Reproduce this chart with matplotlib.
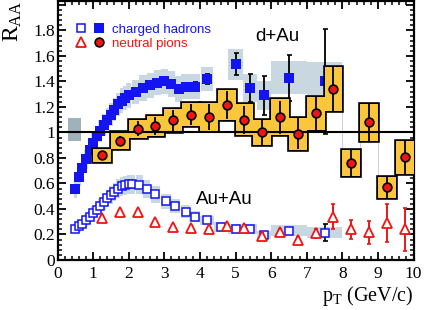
import numpy as np
import matplotlib
matplotlib.use('Agg')
import matplotlib.pyplot as plt
from matplotlib.legend_handler import HandlerTuple
from matplotlib.ticker import MultipleLocator, FuncFormatter
from matplotlib.patches import Rectangle

plt.rcParams['mathtext.fontset'] = 'custom'
plt.rcParams['mathtext.rm'] = 'Liberation Serif'
plt.rcParams['mathtext.it'] = 'Liberation Serif:italic'

# ---------------- data ----------------
# charged hadrons, d+Au (filled squares)
pt_h_dau = [0.5, 0.6, 0.7, 0.8, 0.9, 1.0, 1.1, 1.2, 1.3, 1.4, 1.5, 1.6, 1.7, 1.8, 1.9,
            2.0, 2.2, 2.4, 2.6, 2.8, 3.0, 3.2, 3.4, 3.6, 3.85, 4.2, 5.0, 5.4, 5.8, 6.5, 7.5]
raa_h_dau = [0.555, 0.65, 0.72, 0.79, 0.86, 0.92, 0.97, 1.01, 1.06, 1.10, 1.14, 1.18, 1.22, 1.25, 1.27,
             1.29, 1.32, 1.35, 1.37, 1.39, 1.40, 1.38, 1.34, 1.36, 1.36, 1.42, 1.535, 1.35, 1.29, 1.43, 1.40]
stat_h_dau = [0, 0, 0, 0, 0, 0, 0, 0, 0, 0, 0, 0, 0, 0, 0,
              0, 0, 0, 0, 0, 0, 0, 0, 0, 0.035, 0.04, 0.085, 0.11, 0.15, 0.18, 0.41]
sys_h_dau = [0.07, 0.07, 0.075, 0.075, 0.08, 0.08, 0.08, 0.085, 0.085, 0.09, 0.09, 0.09, 0.09, 0.095, 0.095,
             0.095, 0.095, 0.1, 0.1, 0.1, 0.1, 0.1, 0.1, 0.1, 0.1, 0.095, 0.12, 0.11, 0.115, 0.13, 0.15]
binw_h_dau = [0.1, 0.1, 0.1, 0.1, 0.1, 0.1, 0.1, 0.1, 0.1, 0.1, 0.1, 0.1, 0.1, 0.1, 0.1,
              0.15, 0.2, 0.2, 0.2, 0.2, 0.2, 0.2, 0.2, 0.25, 0.3, 0.35, 0.4, 0.4, 0.4, 1.0, 1.0]

# charged hadrons, Au+Au (open squares)
pt_h_auau = [0.5, 0.6, 0.7, 0.8, 0.9, 1.0, 1.1, 1.2, 1.3, 1.4, 1.5, 1.6, 1.7, 1.8, 1.9, 2.0, 2.1,
             2.3, 2.5, 2.75, 3.05, 3.3, 3.6, 3.85, 4.2, 4.6, 5.0, 5.4, 5.8, 6.5, 7.5]
raa_h_auau = [0.245, 0.265, 0.285, 0.31, 0.335, 0.365, 0.395, 0.425, 0.455, 0.485, 0.51, 0.535, 0.56, 0.578,
              0.587, 0.592, 0.592, 0.59, 0.555, 0.515, 0.46, 0.42, 0.38, 0.34, 0.31, 0.26, 0.24, 0.243,
              0.196, 0.23, 0.215]
stat_h_auau = [0, 0, 0, 0, 0, 0, 0, 0, 0, 0, 0, 0, 0, 0, 0, 0, 0,
               0, 0, 0, 0, 0, 0, 0, 0, 0, 0, 0, 0, 0.02, 0.065]
sys_h_auau = [0.045, 0.045, 0.045, 0.05, 0.05, 0.055, 0.055, 0.06, 0.065, 0.065, 0.07, 0.07, 0.075, 0.075,
              0.075, 0.075, 0.075, 0.075, 0.07, 0.065, 0.06, 0.055, 0.05, 0.045, 0.035, 0.04, 0.04, 0.04,
              0.03, 0.045, 0.045]
binw_h_auau = [0.1, 0.1, 0.1, 0.1, 0.1, 0.1, 0.1, 0.1, 0.1, 0.1, 0.1, 0.1, 0.1, 0.1, 0.1, 0.1, 0.15,
               0.2, 0.22, 0.27, 0.28, 0.28, 0.27, 0.3, 0.4, 0.4, 0.4, 0.4, 0.4, 1.0, 1.0]

# neutral pions, d+Au (filled circles)
pt_pi_dau = [1.25, 1.75, 2.25, 2.75, 3.25, 3.75, 4.25, 4.75, 5.25, 5.75, 6.25, 6.75, 7.25, 7.75,
             8.25, 8.75, 9.25, 9.75]
raa_pi_dau = [0.82, 0.935, 1.03, 1.05, 1.095, 1.14, 1.12, 1.215, 1.10, 1.0, 1.12, 0.99, 1.15, 1.34,
              0.76, 1.08, 0.57, 0.805]
stat_pi_dau = [0.02, 0.04, 0.06, 0.07, 0.08, 0.08, 0.10, 0.11, 0.11, 0.10, 0.13, 0.12, 0.13, 0.17,
               0.10, 0.145, 0.08, 0.13]
sys_pi_dau = [0.05, 0.065, 0.07, 0.08, 0.09, 0.09, 0.11, 0.115, 0.12, 0.10, 0.14, 0.125, 0.13, 0.17,
              0.10, 0.145, 0.08, 0.13]

# neutral pions, Au+Au (open triangles)
pt_pi_auau = [1.25, 1.75, 2.25, 2.75, 3.25, 3.75, 4.25, 4.75, 5.25, 5.75, 6.25, 6.75, 7.25, 7.75,
              8.25, 8.75, 9.25, 9.75]
raa_pi_auau = [0.327, 0.374, 0.374, 0.30, 0.26, 0.25, 0.24, 0.267, 0.248, 0.188, 0.222, 0.157, 0.21,
               0.34, 0.24, 0.218, 0.29, 0.24]
stat_pi_auau = [0.01, 0.01, 0.01, 0.01, 0.01, 0.01, 0.01, 0.015, 0.015, 0.02, 0.02, 0.02, 0.035, 0.1,
                0.075, 0.09, 0.15, 0.17]

# normalisation uncertainty (d+Au)
norm_lo, norm_hi = 0.93, 1.11

legend_labels = ['charged hadrons', 'neutral pions']
legend_colors = ['#1414f0', '#f01414']

# ---------------- styles ----------------
BLUE = '#1414f0'
RED = '#f01414'
BAND = '#c9d7e0'
NORM = '#9fb1bb'
GOLD = '#f9c63c'

fig = plt.figure(figsize=(4.36, 3.10), dpi=100)
ax = fig.add_axes([0.1319, 0.1613, 0.8165, 0.8339])
ax.set_xlim(0, 10)
ax.set_ylim(0, 2.027)

# grey systematic bands for charged hadrons
for x, y, s, w in zip(pt_h_dau, raa_h_dau, sys_h_dau, binw_h_dau):
    ax.add_patch(Rectangle((x - w / 2, y - s), w, 2 * s, facecolor=BAND, edgecolor='none', zorder=1))
for x, y, s, w in zip(pt_h_auau, raa_h_auau, sys_h_auau, binw_h_auau):
    ax.add_patch(Rectangle((x - w / 2, y - s), w, 2 * s, facecolor=BAND, edgecolor='none', zorder=1))

# normalisation box
ax.add_patch(Rectangle((0.30, norm_lo), 0.36, norm_hi - norm_lo, facecolor=NORM, edgecolor='none', zorder=1))

# charged hadrons Au+Au (open squares)
h_open, = ax.plot(pt_h_auau, raa_h_auau, ls='none', marker='s', ms=5.9, mfc='white', mec=BLUE,
                  mew=1.1, zorder=2)
m = np.array(stat_h_auau) > 0
ax.errorbar(np.array(pt_h_auau)[m], np.array(raa_h_auau)[m], yerr=np.array(stat_h_auau)[m],
            fmt='none', ecolor='black', elinewidth=1.2, capsize=1.8, capthick=1.2, zorder=1.9)

# charged hadrons d+Au (filled squares)
h_fill, = ax.plot(pt_h_dau, raa_h_dau, ls='none', marker='s', ms=7.0, mfc=BLUE, mec=BLUE, mew=0,
                  zorder=2)
m = np.array(stat_h_dau) > 0
ax.errorbar(np.array(pt_h_dau)[m], np.array(raa_h_dau)[m], yerr=np.array(stat_h_dau)[m],
            fmt='none', ecolor='black', elinewidth=1.3, capsize=1.8, capthick=1.2, zorder=1.9)

# neutral pions Au+Au (open triangles)
ax.errorbar(pt_pi_auau, raa_pi_auau, yerr=stat_pi_auau, fmt='none', ecolor=RED, elinewidth=1.4,
            capsize=1.5, capthick=1.2, zorder=2.5)
h_tri, = ax.plot(pt_pi_auau, raa_pi_auau, ls='none', marker='^', ms=6.8, mfc='white', mec=RED,
                 mew=1.3, zorder=2.6)

# neutral pions d+Au systematic boxes
pt_pi = np.array(pt_pi_dau)
edges = np.append(pt_pi - 0.25, pt_pi[-1] + 0.25)
hi = np.array(raa_pi_dau) + np.array(sys_pi_dau)
lo = np.array(raa_pi_dau) - np.array(sys_pi_dau)
ax.stairs(hi, edges, baseline=None, color='#d0d0d0', lw=0.6, zorder=2.8)
ax.stairs(lo, edges, baseline=None, color='#d0d0d0', lw=0.6, zorder=2.8)
for x, y, s in zip(pt_pi_dau, raa_pi_dau, sys_pi_dau):
    ax.add_patch(Rectangle((x - 0.25, y - s), 0.5, 2 * s, facecolor='none', edgecolor='black',
                           lw=2.6, zorder=3))
for x, y, s in zip(pt_pi_dau, raa_pi_dau, sys_pi_dau):
    ax.add_patch(Rectangle((x - 0.25, y - s), 0.5, 2 * s, facecolor=GOLD, edgecolor='none',
                           zorder=3.1))

ax.axhline(1.0, color='black', lw=1.5, zorder=4)

ax.errorbar(pt_pi_dau, raa_pi_dau, yerr=stat_pi_dau, fmt='none', ecolor='black', elinewidth=1.3,
            zorder=5)
h_circ, = ax.plot(pt_pi_dau, raa_pi_dau, ls='none', marker='o', ms=6.3, mfc=RED, mec='black',
                  mew=1.2, zorder=6)

# ---------------- axes styling ----------------
for sp in ax.spines.values():
    sp.set_linewidth(1.6)
ax.xaxis.set_major_locator(MultipleLocator(1))
ax.xaxis.set_minor_locator(MultipleLocator(0.2))
ax.yaxis.set_major_locator(MultipleLocator(0.2))
ax.yaxis.set_minor_locator(MultipleLocator(0.04))
ax.yaxis.set_major_formatter(FuncFormatter(lambda v, p: '' if v > 1.95 else '%g' % round(v, 2)))
ax.tick_params(which='both', direction='in', top=True, right=True)
ax.tick_params(which='major', length=6, width=1.3)
ax.tick_params(which='minor', length=3, width=1.1)
ax.tick_params(axis='y', labelsize=12.5, pad=2)
ax.tick_params(axis='x', labelsize=12.5, pad=4)
for lab in ax.get_xticklabels() + ax.get_yticklabels():
    lab.set_fontfamily('Liberation Serif')

# legend
leg = ax.legend([(h_open, h_fill), (h_tri, h_circ)], legend_labels,
                handler_map={tuple: HandlerTuple(ndivide=None, pad=0.6)},
                loc='upper left', bbox_to_anchor=(0.035, 0.935), frameon=False,
                prop={'family': 'Liberation Sans', 'size': 9.5}, handlelength=2.2,
                handletextpad=0.6, labelspacing=0.15, borderaxespad=0)
for t, c in zip(leg.get_texts(), legend_colors):
    t.set_color(c)

ax.text(6.18, 1.755, 'd+Au', ha='center', va='center', fontsize=13.5, family='Liberation Sans')
ax.text(4.69, 0.476, 'Au+Au', ha='center', va='center', fontsize=13.5, family='Liberation Sans')

fig.text(0.004, 1.0, r'R$_{\rm AA}$', rotation=90, ha='left', va='top', fontsize=17,
         family='Liberation Serif')
fig.text(413 / 436, 1 - 296 / 310, r'p$_{\rm T}$ (GeV/c)', ha='right', va='center', fontsize=14.5,
         family='Liberation Serif')

fig.savefig('out.png', dpi=100)
